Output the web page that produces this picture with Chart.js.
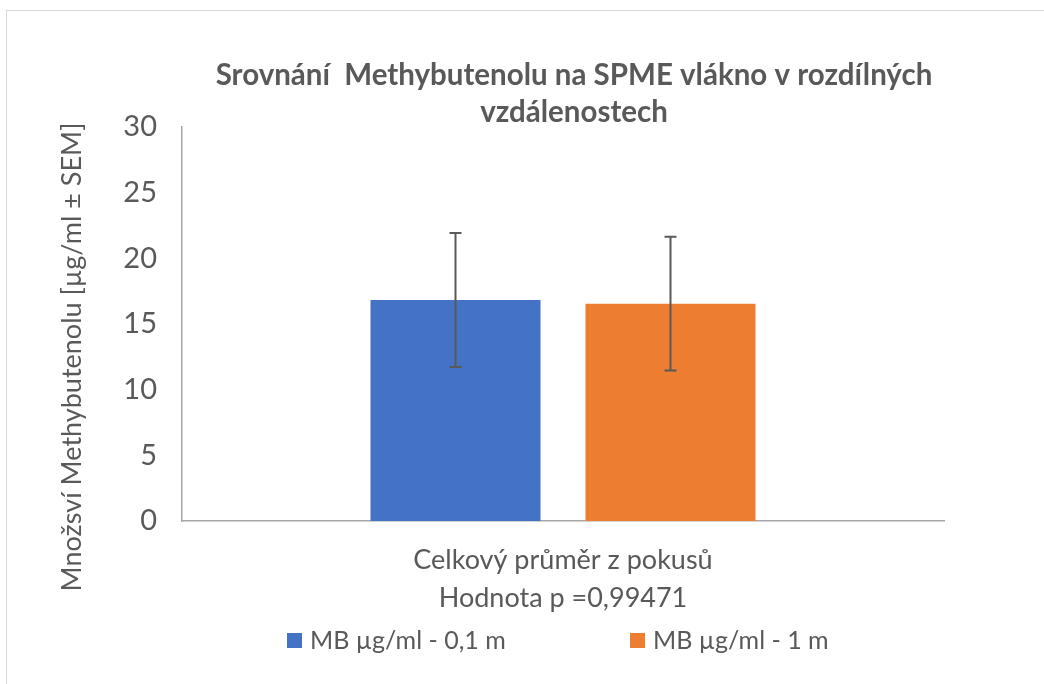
<!DOCTYPE html>
<html>
<head>
<meta charset="utf-8">
<script src="https://cdn.jsdelivr.net/npm/chart.js@4/dist/chart.umd.min.js"></script>
<style>
  html, body { margin: 0; padding: 0; background: #fff; overflow: hidden; }
  #wrap { position: relative; width: 1044px; height: 684px; }
  #frame { position: absolute; left: 6px; top: 10px; width: 1200px; height: 900px; border: 1.5px solid #d9d9d9; }
  #chart { position: absolute; left: 0; top: 0; }
</style>
</head>
<body>
<div id="wrap">
  <div id="frame"></div>
  <canvas id="chart" width="1044" height="684"></canvas>
</div>
<script>
// hodnoty
var categories = [['Celkový průměr z pokusů', 'Hodnota p =0,99471']];
var seriesNames = ['MB µg/ml - 0,1 m', 'MB µg/ml - 1 m'];
var meanNear = [16.82];
var meanFar = [16.55];
var semNear = [5.1];
var semFar = [5.1];
var yTicks = [0, 5, 10, 15, 20, 25, 30];

var titleText = ['Srovnání  Methybutenolu na SPME vlákno v rozdílných', 'vzdálenostech'];
var yTitle = 'Množsví Methybutenolu [µg/ml ± SEM]';

var FONT = 'Lato';
var GREY = '#595959';

var errorBars = {
    id: 'errorBars',
    afterDatasetsDraw: function(chart) {
        var ctx = chart.ctx;
        var y = chart.scales.y;
        ctx.save();
        ctx.strokeStyle = GREY;
        ctx.lineWidth = 2;
        chart.data.datasets.forEach(function(ds, i) {
            var meta = chart.getDatasetMeta(i);
            meta.data.forEach(function(bar, j) {
                var v = ds.data[j], e = ds.sem[j];
                var top = y.getPixelForValue(v + e);
                var bot = y.getPixelForValue(v - e);
                ctx.beginPath();
                ctx.moveTo(bar.x, top); ctx.lineTo(bar.x, bot);
                ctx.moveTo(bar.x - 6, top); ctx.lineTo(bar.x + 6, top);
                ctx.moveTo(bar.x - 6, bot); ctx.lineTo(bar.x + 6, bot);
                ctx.stroke();
            });
        });
        ctx.restore();
    }
};

// popisek osy y a legenda
var extras = {
    id: 'extras',
    afterDraw: function(chart) {
        var ctx = chart.ctx;
        ctx.save();
        ctx.fillStyle = GREY;
        ctx.font = '27px ' + FONT;
        ctx.textAlign = 'center';
        ctx.textBaseline = 'middle';
        ctx.translate(72, 357);
        ctx.rotate(-Math.PI / 2);
        ctx.fillText(yTitle, 0, 0);
        ctx.restore();

        ctx.save();
        ctx.font = '25px ' + FONT;
        ctx.textBaseline = 'middle';
        var pos = [287, 630];
        chart.data.datasets.forEach(function(ds, i) {
            ctx.fillStyle = ds.backgroundColor;
            ctx.fillRect(pos[i], 633, 15, 15);
            ctx.fillStyle = GREY;
            ctx.fillText(ds.label, pos[i] + 23, 641);
        });
        ctx.restore();
    }
};

new Chart(document.getElementById('chart'), {
    type: 'bar',
    data: {
        labels: categories,
        datasets: [
            { label: seriesNames[0], data: meanNear, sem: semNear, backgroundColor: '#4472C4' },
            { label: seriesNames[1], data: meanFar, sem: semFar, backgroundColor: '#ED7D31' }
        ]
    },
    options: {
        responsive: false,
        animation: false,
        events: [],
        categoryPercentage: 0.5643,
        barPercentage: 0.7907,
        layout: { padding: { left: 104, right: 0, top: 0, bottom: 63 } },
        plugins: {
            legend: { display: false },
            tooltip: { enabled: false },
            title: {
                display: true,
                text: titleText,
                color: GREY,
                font: { family: FONT, size: 29.5, weight: 'bold', lineHeight: 37 / 29.5 },
                padding: { top: 57, bottom: -4 }
            }
        },
        scales: {
            x: {
                grid: { display: false, drawTicks: false },
                border: { display: true, color: '#a6a6a6', width: 1.5 },
                ticks: { color: GREY, font: { family: FONT, size: 27, lineHeight: 38 / 27 }, padding: 20, maxRotation: 0 },
                afterFit: function(s) { s.height = 100; }
            },
            y: {
                min: 0, max: 30,
                grid: { display: false, drawTicks: false },
                border: { display: true, color: '#a6a6a6', width: 1.5 },
                afterBuildTicks: function(s) { s.ticks = yTicks.map(function(v) { return { value: v }; }); },
                ticks: { color: GREY, font: { family: FONT, size: 29 }, padding: 25 },
                afterFit: function(s) { s.width = 78; }
            },
            spacer: {
                position: 'right',
                display: true,
                grid: { display: false, drawTicks: false },
                border: { display: false },
                ticks: { display: false },
                afterFit: function(s) { s.width = 100; }
            }
        }
    },
    plugins: [errorBars, extras]
});
</script>
</body>
</html>
